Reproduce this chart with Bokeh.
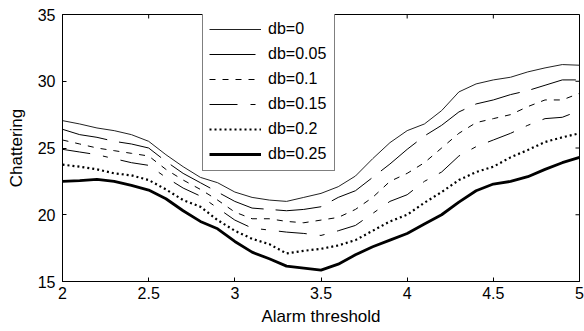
import math
from bokeh.plotting import figure
from bokeh.models import Range1d, FixedTicker, Legend, LegendItem
from bokeh.embed import file_html
from bokeh.resources import INLINE

# ---- data ----
x_vals = [2.0, 2.1, 2.2, 2.3, 2.4, 2.5, 2.6, 2.7, 2.8, 2.9, 3.0, 3.1, 3.2, 3.3, 3.4, 3.5,
          3.6, 3.7, 3.8, 3.9, 4.0, 4.1, 4.2, 4.3, 4.4, 4.5, 4.6, 4.7, 4.8, 4.9, 5.0]

db_0 = [27.05, 26.8, 26.5, 26.3, 26.0, 25.5, 24.5, 23.6, 22.8, 22.4, 21.7, 21.3, 21.1, 21.0, 21.3, 21.6,
        22.1, 22.9, 24.2, 25.4, 26.3, 26.8, 27.8, 29.2, 29.8, 30.1, 30.3, 30.7, 31.0, 31.25, 31.2]
db_005 = [26.4, 26.0, 25.8, 25.5, 25.3, 25.0, 24.0, 23.1, 22.4, 21.7, 21.0, 20.5, 20.4, 20.3, 20.4, 20.6,
          21.3, 21.8, 22.8, 23.8, 24.9, 25.9, 26.7, 27.7, 28.3, 28.6, 29.0, 29.3, 29.7, 30.1, 30.1]
db_01 = [25.6, 25.3, 25.0, 24.8, 24.6, 24.4, 23.4, 22.6, 21.9, 21.1, 20.2, 19.7, 19.7, 19.5, 19.4, 19.6,
         19.8, 20.4, 21.3, 22.5, 23.1, 23.9, 25.0, 26.1, 26.9, 27.2, 27.5, 28.1, 28.6, 28.6, 29.1]
db_015 = [24.9, 24.7, 24.5, 24.2, 23.9, 23.7, 22.8, 22.0, 21.4, 20.5, 19.6, 19.0, 18.85, 18.7, 18.6, 18.45,
          18.8, 19.2, 20.1, 21.0, 21.5, 22.5, 23.2, 24.4, 25.1, 25.6, 26.1, 26.7, 27.2, 27.3, 27.8]
db_02 = [23.75, 23.6, 23.4, 23.1, 22.95, 22.6, 21.9, 21.1, 20.6, 19.6, 18.8, 18.2, 17.8, 17.1, 17.3, 17.45,
         17.7, 18.1, 18.8, 19.5, 20.0, 20.9, 21.7, 22.6, 23.2, 23.6, 24.3, 24.85, 25.45, 25.8, 26.1]
db_025 = [22.5, 22.55, 22.65, 22.5, 22.2, 21.85, 21.2, 20.3, 19.5, 18.95, 18.0, 17.2, 16.7, 16.15, 16.0, 15.85,
          16.3, 17.0, 17.6, 18.1, 18.6, 19.3, 20.0, 20.95, 21.8, 22.3, 22.5, 22.85, 23.4, 23.9, 24.3]

series_labels = ["db=0", "db=0.05", "db=0.1", "db=0.15", "db=0.2", "db=0.25"]
series_values = [db_0, db_005, db_01, db_015, db_02, db_025]

x_ticks = [2, 2.5, 3, 3.5, 4, 4.5, 5]
x_tick_labels = ["2", "2.5", "3", "3.5", "4", "4.5", "5"]
y_ticks = [15, 20, 25, 30, 35]
y_tick_labels = ["15", "20", "25", "30", "35"]
x_min, x_max = 2, 5
y_min, y_max = 15, 35

# ---- styles ----
styles = [
    dict(line_color="#222222", line_width=1, line_dash="solid"),
    dict(line_color="black", line_width=1, line_dash="46 12"),
    dict(line_color="black", line_width=1, line_dash="6 7"),
    dict(line_color="black", line_width=1, line_dash="28 13 5 13"),
    dict(line_color="black", line_width=2.2, line_dash="2 3"),
    dict(line_color="black", line_width=2.8, line_dash="solid"),
]

FONT = "Liberation Sans"

p = figure(width=584, height=331, output_backend="svg", toolbar_location=None,
           x_range=Range1d(x_min, x_max), y_range=Range1d(y_min, y_max),
           min_border_left=62, min_border_right=5, min_border_top=14, min_border_bottom=50)
p.xgrid.visible = False
p.ygrid.visible = False
p.outline_line_color = "black"
p.outline_line_width = 1
p.background_fill_color = "white"
p.border_fill_color = "white"

def style_axis(ax, ticks, labels):
    ax.ticker = FixedTicker(ticks=ticks)
    ax.major_label_overrides = {t: l for t, l in zip(ticks, labels)}
    ax.major_tick_in = 4
    ax.major_tick_out = 0
    ax.minor_tick_line_color = None
    ax.axis_line_color = "black"
    ax.major_tick_line_color = "black"
    ax.major_label_text_font = FONT
    ax.major_label_text_color = "black"
    ax.major_label_text_font_size = "16px"
    ax.axis_label_text_font = FONT
    ax.axis_label_text_font_size = "17px"
    ax.axis_label_text_font_style = "normal"
    ax.axis_label_text_color = "black"

xa = p.xaxis[0]
style_axis(xa, x_ticks, x_tick_labels)
xa.major_label_standoff = 5
xa.axis_label = "Alarm threshold"
xa.axis_label_standoff = 5

ya = p.yaxis[0]
style_axis(ya, y_ticks, y_tick_labels)
ya.major_label_standoff = 7
ya.axis_label = "Chattering"
ya.axis_label_standoff = 9

# mirrored inward ticks on the top and right frame edges
p.ray(x=x_ticks, y=[y_max] * len(x_ticks), length=4, length_units="screen",
      angle=-math.pi / 2, line_color="black", line_width=1)
p.ray(x=[x_max] * len(y_ticks), y=y_ticks, length=4, length_units="screen",
      angle=math.pi, line_color="black", line_width=1)

items = []
for lab, vals, st in zip(series_labels, series_values, styles):
    r = p.line(x_vals, vals, **st)
    items.append(LegendItem(label=lab, renderers=[r]))

legend = Legend(items=items, location=(140, 110))
legend.border_line_color = "black"
legend.border_line_width = 1
legend.background_fill_color = "white"
legend.background_fill_alpha = 1
legend.label_text_font = FONT
legend.label_text_font_size = "16px"
legend.label_text_color = "black"
legend.glyph_width = 52
legend.glyph_height = 20
legend.label_height = 20
legend.label_width = 60
legend.label_standoff = 7
legend.spacing = 5
legend.padding = 6
legend.margin = 0
p.add_layout(legend, "center")

open("out.html", "w").write(file_html(p, INLINE))
